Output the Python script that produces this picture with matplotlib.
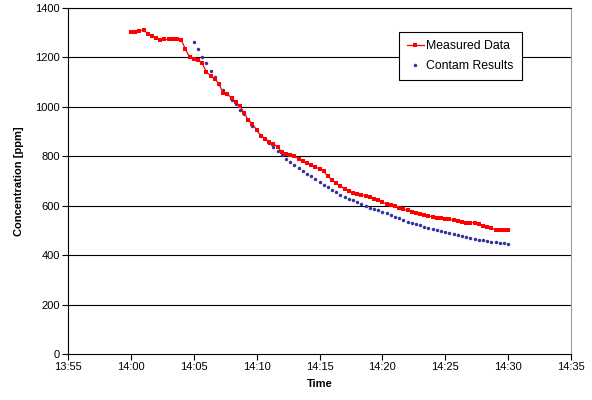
import numpy as np
import matplotlib
matplotlib.use("Agg")
import matplotlib.pyplot as plt

plt.rcParams['font.family'] = ['Liberation Sans', 'DejaVu Sans']

# minutes after 14:00, sampled every 20 s
meas_t = np.arange(91) / 3.0
meas_ppm = [1300, 1302, 1306, 1310, 1295, 1286, 1278, 1270, 1272, 1272,
            1272, 1272, 1270, 1232, 1200, 1192, 1190, 1175, 1140, 1125,
            1112, 1092, 1055, 1050, 1035, 1018, 1002, 975, 945, 930,
            905, 882, 870, 856, 848, 838, 815, 808, 806, 800,
            790, 779, 770, 762, 756, 748, 738, 718, 703, 690,
            678, 668, 660, 652, 648, 644, 639, 633, 628, 621,
            613, 607, 604, 597, 590, 585, 580, 575, 569, 565,
            562, 558, 554, 550, 548, 546, 544, 541, 537, 533,
            531, 531, 531, 526, 518, 513, 508, 503, 502, 502,
            502]

contam_t = 5 + np.arange(76) / 3.0
contam_ppm = [1262, 1232, 1200, 1175, 1145, 1120, 1092, 1068, 1050, 1026,
              1010, 988, 968, 946, 922, 905, 882, 867, 852, 836,
              820, 804, 789, 775, 763, 751, 740, 729, 718, 706,
              694, 683, 673, 663, 653, 644, 636, 628, 621, 614,
              606, 599, 592, 586, 580, 574, 568, 562, 554, 548,
              542, 535, 529, 524, 520, 515, 511, 506, 501, 496,
              492, 488, 484, 480, 475, 472, 468, 465, 462, 459,
              456, 454, 452, 450, 448, 446]

tick_min = [-5, 0, 5, 10, 15, 20, 25, 30, 35]
tick_lbl = ["13:55", "14:00", "14:05", "14:10", "14:15", "14:20", "14:25", "14:30", "14:35"]

fig = plt.figure(figsize=(5.92, 4.0), dpi=100)
ax = fig.add_axes([0.115, 0.115, 0.8495, 0.866])

for y in range(200, 1401, 200):
    ax.axhline(y, color='black', lw=0.8, zorder=1)

ax.plot(meas_t, meas_ppm, color='#ff0000', lw=0.9, marker='s', ms=2.4,
        mew=0, label='Measured Data', zorder=3)
ax.plot(contam_t, contam_ppm, ls='none', color='#333399', marker='o', ms=2.5,
        mew=0, label='Contam Results', zorder=2)

ax.set_xlim(-5, 35)
ax.set_ylim(0, 1400)
ax.set_xticks(tick_min)
ax.set_xticklabels(tick_lbl)
ax.set_yticks(range(0, 1401, 200))
ax.tick_params(axis='both', labelsize=8, direction='out', length=4, width=0.8, pad=2)

ax.spines['left'].set_linewidth(0.8)
ax.spines['bottom'].set_linewidth(0.8)
ax.spines['top'].set_linewidth(0.8)
ax.spines['right'].set_color('#a0a0a0')
ax.spines['right'].set_linewidth(0.8)

ax.set_xlabel('Time', fontsize=8, fontweight='bold', labelpad=5)
ax.set_ylabel('Concentration [ppm]', fontsize=8, fontweight='bold', labelpad=8)

leg = ax.legend(loc='upper left', bbox_to_anchor=(0.658, 0.929), fontsize=8.8,
                frameon=True, fancybox=False, framealpha=1, edgecolor='black',
                handlelength=1.4, handletextpad=0.2, borderpad=0.65, labelspacing=0.65,
                borderaxespad=0)
leg.get_frame().set_linewidth(0.8)

fig.savefig('out.png', dpi=100)
